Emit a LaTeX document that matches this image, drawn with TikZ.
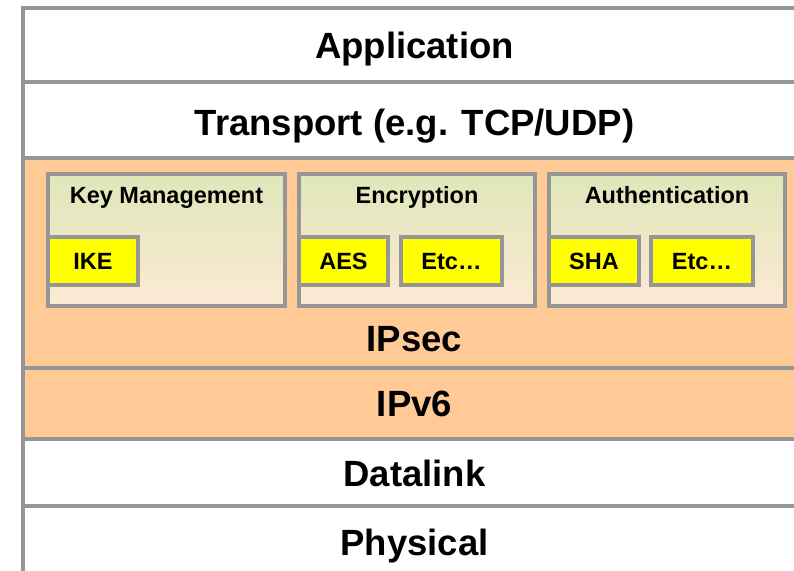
\documentclass[tikz,border=0pt]{standalone}
\usepackage{fontspec}
\setmainfont{Liberation Sans}
\definecolor{bordergray}{HTML}{969696}
\definecolor{layerorange}{HTML}{FFCA96}
\definecolor{gradtop}{HTML}{DFE7B9}
\definecolor{gradbot}{HTML}{FCE9D4}
\definecolor{boxyellow}{HTML}{FFFF00}
\tikzset{
  layer/.style={draw=bordergray, line width=4pt, rectangle, inner sep=0pt, outer sep=0pt,
    minimum width=783pt, text height=26.1pt, text depth=0pt,
    font=\fontsize{36.5}{40}\selectfont\bfseries},
  group/.style={draw=bordergray, line width=4pt, rectangle, inner sep=0pt, outer sep=0pt,
    top color=gradtop, bottom color=gradbot, minimum height=132pt},
  grouptitle/.style={inner sep=0pt, text height=16.8pt, text depth=0pt,
    font=\fontsize{23.5}{26}\selectfont\bfseries},
  algo/.style={draw=bordergray, line width=4pt, rectangle, fill=boxyellow, inner sep=0pt,
    outer sep=0pt, minimum height=48pt, text height=16.8pt, text depth=0pt,
    font=\fontsize{23.5}{26}\selectfont\bfseries},
  bigtitle/.style={inner sep=0pt, text height=26.1pt, text depth=0pt,
    font=\fontsize{36.5}{40}\selectfont\bfseries}
}
\begin{document}
\begin{tikzpicture}[x=1pt, y=-1pt]
\useasboundingbox (0,0) rectangle (794,570);
\clip (0,0) rectangle (794,570);
\fill[white] (0,0) rectangle (794,570);
% layers
\node[layer, fill=white, minimum height=74pt] (app) at (414.5,45) {Application};
\node[layer, fill=white, minimum height=76pt] (trans) at (414.5,120) {};
\node[bigtitle] (transt) at (414.5,122) {Transport (e.g. TCP/UDP)};
\node[layer, fill=layerorange, minimum height=210pt] (ipsec) at (414.5,263) {};
\node[layer, fill=layerorange, minimum height=71pt] (ipv6) at (414.5,403.5) {IPv6};
\node[layer, fill=white, minimum height=67pt] (dl) at (414.5,472.5) {};
\node[bigtitle] (dlt) at (414.5,473) {Datalink};
\node[layer, fill=white, minimum height=70pt] (phy) at (414.5,541) {};
\node[bigtitle] (phyt) at (414.5,542) {Physical};
\node[bigtitle] (ipsect) at (414.5,338.5) {IPsec};
% groups
\node[group, minimum width=237pt] (km) at (166.5,240) {};
\node[group, minimum width=236pt] (enc) at (417,240) {};
\node[group, minimum width=236pt] (auth) at (667,240) {};
\node[grouptitle] (kmt) at (166.5,195.5) {Key Management};
\node[grouptitle] (enct) at (417,195.5) {Encryption};
\node[grouptitle] (autht) at (667,195.5) {Authentication};
% algorithms
\node[algo, minimum width=90pt] (ike) at (93,261) {IKE};
\node[algo, minimum width=89pt] (aes) at (343.5,261) {AES};
\node[algo, minimum width=101pt] (etca) at (451.5,261) {Etc…};
\node[algo, minimum width=90pt] (sha) at (594,261) {SHA};
\node[algo, minimum width=102pt] (etcb) at (702,261) {Etc…};
\end{tikzpicture}
\end{document}
